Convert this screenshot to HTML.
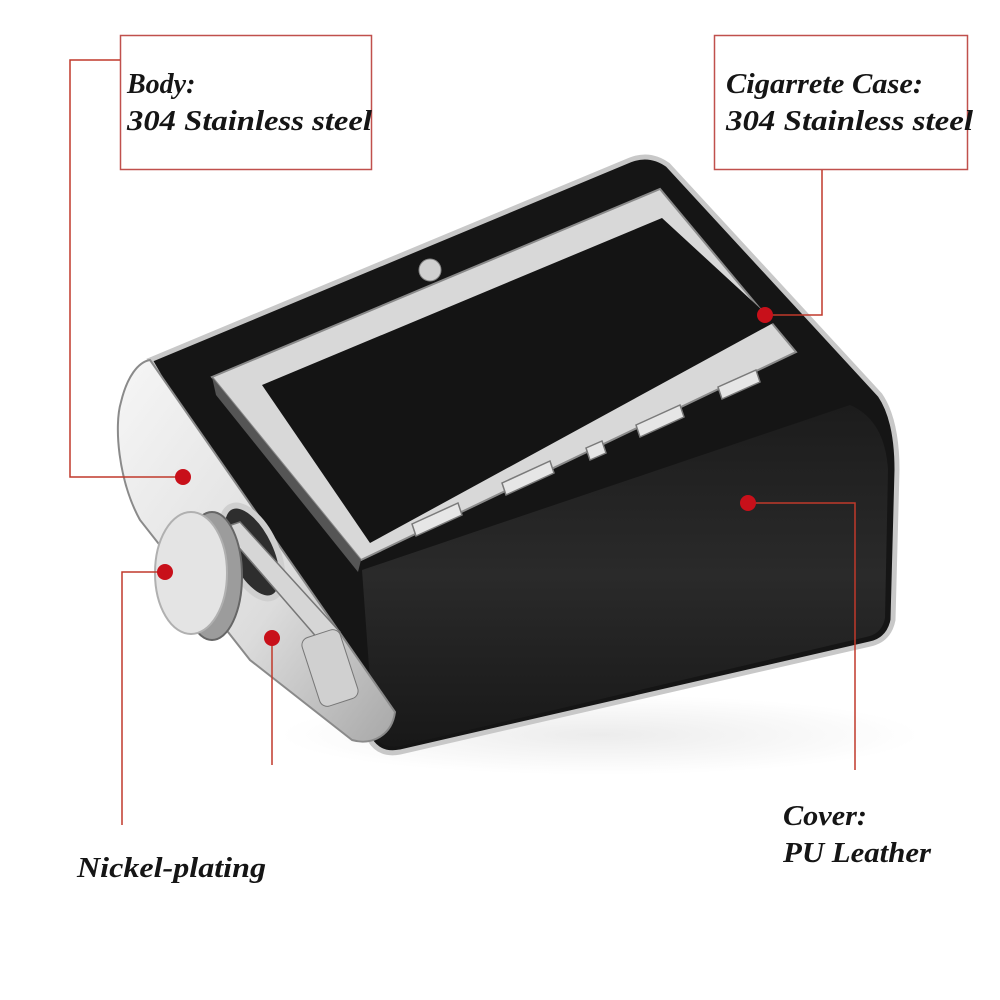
<!DOCTYPE html>
<html><head><meta charset="utf-8"><style>
html,body{margin:0;padding:0;background:#fff;}
svg{display:block;}
text{font-family:"Liberation Serif",serif;font-weight:bold;font-style:italic;fill:#151515;font-size:28px;}
</style></head><body>
<svg width="1000" height="1000" viewBox="0 0 1000 1000" xmlns="http://www.w3.org/2000/svg">
<defs>
<linearGradient id="sil" x1="0" y1="0" x2="1" y2="1">
<stop offset="0" stop-color="#f6f6f6"/><stop offset="0.6" stop-color="#dcdcdc"/><stop offset="1" stop-color="#a8a8a8"/>
</linearGradient>
<linearGradient id="front" x1="0" y1="0" x2="0" y2="1">
<stop offset="0" stop-color="#1c1c1c"/><stop offset="0.5" stop-color="#2a2a2a"/><stop offset="1" stop-color="#181818"/>
</linearGradient>
<radialGradient id="shadow" cx="0.5" cy="0.5" r="0.5">
<stop offset="0" stop-color="#ececec"/><stop offset="1" stop-color="#ffffff"/>
</radialGradient>
</defs>
<rect width="1000" height="1000" fill="#fff"/>
<ellipse cx="600" cy="735" rx="320" ry="40" fill="url(#shadow)"/>

<path d="M150,360 L630,160 Q650,152 668,165 L880,395 Q897,420 897,470 L893,620 Q889,640 870,644 L400,752 Q380,756 370,740 Z" fill="#151515" stroke="#c8c8c8" stroke-width="5"/>
<path d="M362,570 L850,405 Q885,420 888,470 L885,618 Q882,634 866,637 L400,746 Q383,749 374,736 Z" fill="url(#front)"/>

<path d="M150,360 L395,712 C392,735 372,746 352,740 L250,660 L140,520 C118,480 114,425 121,402 C127,377 138,362 150,360 Z" fill="url(#sil)" stroke="#8a8a8a" stroke-width="2"/>
<ellipse cx="252" cy="552" rx="24" ry="50" transform="rotate(-25 252 552)" fill="#2e2e2e" stroke="#cfcfcf" stroke-width="6"/>
<path d="M222,528 L240,522 L340,632 L326,648 Z" fill="#d6d6d6" stroke="#777" stroke-width="1.5"/>
<rect x="310" y="632" width="40" height="72" rx="8" fill="#d0d0d0" stroke="#777" transform="rotate(-18 330 668)"/>
<ellipse cx="212" cy="576" rx="30" ry="64" fill="#9c9c9c" stroke="#666" stroke-width="2"/>
<ellipse cx="191" cy="573" rx="36" ry="61" fill="#e4e4e4" stroke="#b0b0b0" stroke-width="2"/>

<circle cx="430" cy="270" r="11" fill="#d0d0d0" stroke="#888"/>
<path d="M212,377 L660,189 L796,352 L361,560 Z" fill="#d8d8d8" stroke="#8a8a8a" stroke-width="2"/>
<path d="M262,385 L662,218 L775,322 L370,543 Z" fill="#141414"/>
<path d="M212,377 L216,395 L358,572 L361,560 Z" fill="#555"/>
<g fill="#e6e6e6" stroke="#7a7a7a" stroke-width="1.5">
<path d="M412,524 L458,503 L462,515 L416,536 Z"/>
<path d="M502,483 L550,461 L554,473 L506,495 Z"/>
<path d="M586,448 L602,441 L606,453 L590,460 Z"/>
<path d="M636,425 L680,405 L684,417 L640,437 Z"/>
<path d="M718,387 L756,370 L760,382 L722,399 Z"/>
</g>

<rect x="120.5" y="35.5" width="251" height="134" fill="none" stroke="#c0504d" stroke-width="1.5"/>
<rect x="714.5" y="35.5" width="253" height="134" fill="none" stroke="#c0504d" stroke-width="1.5"/>
<text x="127" y="93">Body:</text>
<text x="127" y="130" textLength="245" lengthAdjust="spacingAndGlyphs">304 Stainless steel</text>
<text x="726" y="93" textLength="197" lengthAdjust="spacingAndGlyphs">Cigarrete Case:</text>
<text x="726" y="130" textLength="247" lengthAdjust="spacingAndGlyphs">304 Stainless steel</text>
<text x="783" y="825" textLength="84" lengthAdjust="spacingAndGlyphs">Cover:</text>
<text x="783" y="862" textLength="148" lengthAdjust="spacingAndGlyphs">PU Leather</text>
<text x="77" y="877" textLength="189" lengthAdjust="spacingAndGlyphs">Nickel-plating</text>

<g fill="none" stroke="#c0392b" stroke-width="1.5">
<polyline points="120,60 70,60 70,477 183,477"/>
<polyline points="822,170 822,315 765,315"/>
<polyline points="748,503 855,503 855,770"/>
<polyline points="165,572 122,572 122,825"/>
<polyline points="272,638 272,765"/>
</g>
<g fill="#c8101a">
<circle cx="183" cy="477" r="8"/>
<circle cx="765" cy="315" r="8"/>
<circle cx="748" cy="503" r="8"/>
<circle cx="165" cy="572" r="8"/>
<circle cx="272" cy="638" r="8"/>
</g>
</svg>
</body></html>
